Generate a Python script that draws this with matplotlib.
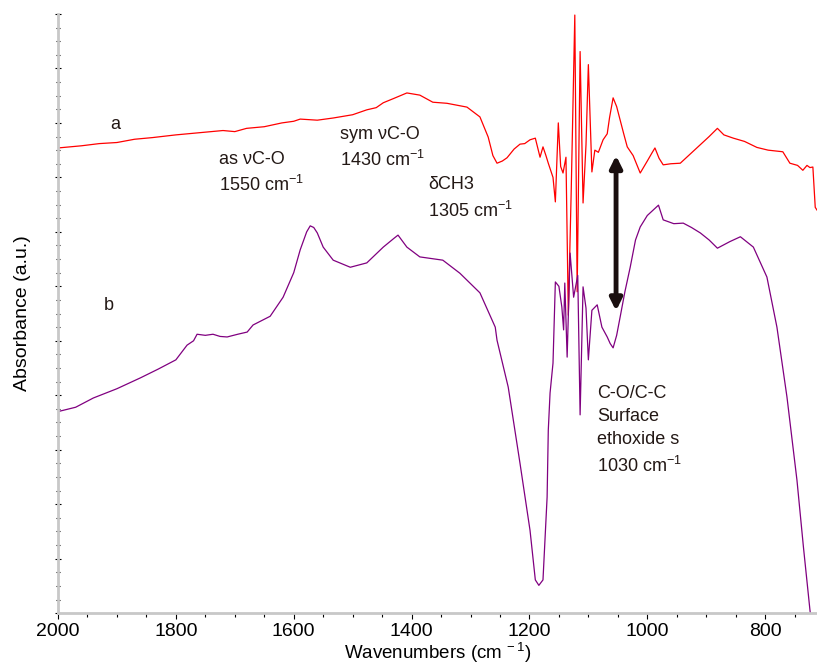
"""FTIR spectra of surface species, curves a and b."""

import matplotlib

matplotlib.use("Agg")
import matplotlib.pyplot as plt
import numpy as np

plt.rcParams["font.family"] = ["Liberation Sans", "DejaVu Sans"]
plt.rcParams["mathtext.fontset"] = "custom"
plt.rcParams["mathtext.rm"] = "Liberation Sans"

# spectrum a (red)
red_wn = [2000, 1960, 1930, 1900, 1870, 1840, 1800, 1760, 1720, 1700, 1680, 1650,
          1620, 1600, 1589, 1560, 1533, 1500, 1476, 1460, 1448, 1430, 1408, 1386,
          1364, 1340, 1306, 1284, 1270, 1262, 1255, 1246, 1238, 1226, 1216, 1208,
          1199, 1190, 1182, 1177, 1172, 1168, 1160, 1156, 1151, 1147, 1143, 1138,
          1134, 1129, 1123, 1119, 1114, 1109, 1104, 1100, 1094, 1089, 1083, 1075,
          1068, 1064, 1058, 1052, 1046, 1040, 1034, 1024, 1012, 1000, 992, 987,
          980, 973, 960, 944, 925, 910, 895, 881, 870, 854, 835, 814, 795, 770,
          758, 745, 736, 729, 724, 719, 715, 712]
red_abs = [8.54, 8.58, 8.62, 8.64, 8.70, 8.73, 8.78, 8.82, 8.86, 8.84, 8.90, 8.93,
           9.00, 9.03, 9.07, 9.05, 9.09, 9.15, 9.24, 9.28, 9.37, 9.45, 9.55, 9.51,
           9.38, 9.36, 9.29, 9.11, 8.74, 8.40, 8.26, 8.30, 8.36, 8.52, 8.61, 8.62,
           8.69, 8.72, 8.37, 8.56, 8.40, 8.26, 8.00, 7.55, 9.00, 8.20, 8.08, 8.37,
           5.47, 7.80, 10.98, 5.90, 10.31, 7.53, 8.60, 10.07, 8.10, 8.50, 8.46, 8.69,
           8.80, 9.10, 9.46, 9.30, 9.05, 8.80, 8.56, 8.40, 8.08, 8.30, 8.45, 8.54,
           8.35, 8.23, 8.25, 8.26, 8.45, 8.60, 8.75, 8.90, 8.78, 8.72, 8.66, 8.55,
           8.50, 8.47, 8.26, 8.22, 8.13, 8.22, 8.18, 8.19, 7.45, 7.40]

# spectrum b (purple)
purple_wn = [2000, 1970, 1940, 1900, 1860, 1830, 1800, 1781, 1770, 1764, 1750, 1737,
             1725, 1713, 1695, 1679, 1669, 1640, 1618, 1600, 1589, 1578, 1572, 1566,
             1560, 1550, 1533, 1504, 1476, 1448, 1430, 1423, 1408, 1386, 1360, 1347,
             1318, 1284, 1258, 1255, 1236, 1216, 1199, 1190, 1184, 1177, 1170, 1168,
             1165, 1160, 1156, 1150, 1145, 1142, 1140, 1136, 1131, 1125, 1118, 1114,
             1109, 1104, 1100, 1094, 1085, 1077, 1068, 1063, 1058, 1052, 1046, 1038,
             1029, 1020, 1012, 1000, 990, 981, 973, 955, 939, 925, 910, 895, 881,
             860, 842, 820, 797, 780, 763, 746, 735, 724, 720]
purple_abs = [3.70, 3.78, 3.95, 4.12, 4.32, 4.48, 4.65, 4.92, 5.00, 5.12, 5.10, 5.12,
              5.08, 5.07, 5.12, 5.16, 5.29, 5.45, 5.80, 6.25, 6.67, 7.00, 7.11, 7.08,
              6.98, 6.72, 6.48, 6.35, 6.43, 6.72, 6.88, 6.94, 6.72, 6.54, 6.50, 6.48,
              6.24, 5.88, 5.25, 5.01, 4.15, 2.75, 1.52, 0.61, 0.51, 0.61, 2.13, 3.36,
              4.04, 4.59, 6.08, 6.00, 5.62, 5.20, 6.06, 4.70, 6.61, 5.80, 6.20, 3.64,
              5.99, 5.60, 4.65, 5.56, 5.66, 5.25, 5.07, 4.95, 4.87, 5.10, 5.44, 5.90,
              6.35, 6.85, 7.09, 7.30, 7.40, 7.49, 7.22, 7.15, 7.16, 7.08, 6.98, 6.85,
              6.70, 6.82, 6.91, 6.72, 6.17, 5.25, 3.97, 2.44, 1.21, 0.06, -0.30]

x_ticks = [2000, 1800, 1600, 1400, 1200, 1000, 800]

TEXT_COLOR = "#231815"

fig = plt.figure(figsize=(8.17, 6.65), dpi=100)
ax = fig.add_axes([0.071, 0.078, 0.929, 0.901])

ax.plot(red_wn, red_abs, color="#ff0000", lw=0.9)
ax.plot(purple_wn, purple_abs, color="#800080", lw=0.9)

ax.set_xlim(2000, 712)
ax.set_ylim(0, 11)
ax.set_xticks(x_ticks)
ax.set_xticks(np.arange(750, 2000, 50), minor=True)
ax.set_yticks(np.arange(0, 11.01, 1))
ax.set_yticks(np.arange(0, 11.01, 0.25), minor=True)
ax.set_yticklabels([])

for side in ("top", "right"):
    ax.spines[side].set_visible(False)
for side in ("left", "bottom"):
    ax.spines[side].set_color("#c8c8c8")
    ax.spines[side].set_linewidth(2.0)

ax.tick_params(axis="x", which="major", direction="out", length=4, width=0.8,
               labelsize=14, colors="black", pad=3)
ax.tick_params(axis="x", which="minor", direction="out", length=3, width=0.8)
ax.tick_params(axis="y", which="major", direction="inout", length=4, width=0.8)
ax.tick_params(axis="y", which="minor", direction="inout", length=2.5, width=0.8)

ax.set_xlabel(r"Wavenumbers (cm$^{\,-1}$)", fontsize=13.5, labelpad=0)
ax.set_ylabel("Absorbance (a.u.)", fontsize=14, labelpad=14)

ann = dict(fontsize=13, color=TEXT_COLOR, ha="left", va="baseline", linespacing=1.45)
ax.text(1912, 8.88, "a", **ann)
ax.text(1922, 5.57, "b", **ann)
ax.text(1726, 7.75, "as \u03bdC-O\n1550 cm$^{-1}$", **ann)
ax.text(1521, 8.20, "sym \u03bdC-O\n1430 cm$^{-1}$", **ann)
ax.text(1372, 7.28, "\u03b4CH3\n1305 cm$^{-1}$", **ann)
ax.text(1085, 2.60, "C-O/C-C\nSurface\nethoxide s\n1030 cm$^{-1}$", **ann)

ax.annotate("", xy=(1053, 5.55), xytext=(1053, 8.40),
            arrowprops=dict(arrowstyle="<|-|>,head_length=0.7,head_width=0.35",
                            color="#1a0f0f", lw=3.5, shrinkA=0, shrinkB=0))

fig.savefig("out.png", dpi=100)
